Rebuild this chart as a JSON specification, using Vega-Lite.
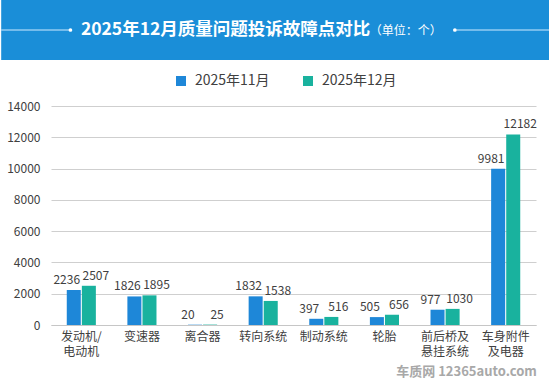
{
  "$schema": "https://vega.github.io/schema/vega-lite/v6.json",
  "background": "white",
  "padding": 0,
  "columns": 1,
  "align": "none",
  "spacing": 14,
  "resolve": {"scale": {"color": "independent"}, "legend": {"color": "independent"}},
  "config": {"view": {"stroke": null}, "font": "Noto Sans CJK SC"},
  "concat": [
    {
      "width": 498,
      "height": 60,
      "data": {"values": [{"t": "2025年12月质量问题投诉故障点对比", "u": "（单位：个）"}]},
      "layer": [
        {
          "mark": {"type": "rect", "color": "#1a8ed8"},
          "encoding": {
            "x": {"datum": 0, "scale": {"domain": [52, 550]}, "axis": null},
            "x2": {"datum": 550},
            "y": {"datum": 0, "scale": {"domain": [0, 1]}, "axis": null},
            "y2": {"datum": 1}
          }
        },
        {
          "mark": {"type": "rule", "color": "#cfeaff", "strokeWidth": 1},
          "encoding": {
            "x": {"datum": 0},
            "x2": {"datum": 68},
            "y": {"datum": 0.5}
          }
        },
        {
          "mark": {"type": "rule", "color": "#cfeaff", "strokeWidth": 1},
          "encoding": {
            "x": {"datum": 457},
            "x2": {"datum": 550},
            "y": {"datum": 0.5}
          }
        },
        {
          "mark": {"type": "circle", "color": "#ffffff", "opacity": 1, "size": 14},
          "encoding": {"x": {"datum": 69.5}, "y": {"datum": 0.5}}
        },
        {
          "mark": {"type": "circle", "color": "#ffffff", "opacity": 1, "size": 14},
          "encoding": {"x": {"datum": 455.5}, "y": {"datum": 0.5}}
        },
        {
          "mark": {"type": "text", "align": "left", "baseline": "middle", "color": "white", "fontSize": 17.5, "fontWeight": "bold", "font": "Noto Sans CJK SC"},
          "encoding": {"x": {"datum": 80}, "y": {"datum": 0.5}, "text": {"field": "t"}}
        },
        {
          "mark": {"type": "text", "align": "left", "baseline": "middle", "color": "white", "fontSize": 12, "font": "Noto Sans CJK SC", "dy": 1},
          "encoding": {"x": {"datum": 370}, "y": {"datum": 0.5}, "text": {"field": "u"}}
        }
      ]
    },
    {
      "width": 485,
      "height": 219,
      "title": {"text": "车质网 12365auto.com", "orient": "bottom", "anchor": "end", "color": "#a8a8a8", "fontSize": 13, "fontWeight": "bold", "offset": 9},
      "data": {
        "values": [
          {"cat": "发动机/|电动机", "month": "2025年11月", "value": 2236},
          {"cat": "变速器", "month": "2025年11月", "value": 1826},
          {"cat": "离合器", "month": "2025年11月", "value": 20},
          {"cat": "转向系统", "month": "2025年11月", "value": 1832},
          {"cat": "制动系统", "month": "2025年11月", "value": 397},
          {"cat": "轮胎", "month": "2025年11月", "value": 505},
          {"cat": "前后桥及|悬挂系统", "month": "2025年11月", "value": 977},
          {"cat": "车身附件|及电器", "month": "2025年11月", "value": 9981},
          {"cat": "发动机/|电动机", "month": "2025年12月", "value": 2507},
          {"cat": "变速器", "month": "2025年12月", "value": 1895},
          {"cat": "离合器", "month": "2025年12月", "value": 25},
          {"cat": "转向系统", "month": "2025年12月", "value": 1538},
          {"cat": "制动系统", "month": "2025年12月", "value": 516},
          {"cat": "轮胎", "month": "2025年12月", "value": 656},
          {"cat": "前后桥及|悬挂系统", "month": "2025年12月", "value": 1030},
          {"cat": "车身附件|及电器", "month": "2025年12月", "value": 12182}
        ]
      },
      "encoding": {
        "x": {
          "field": "cat", "type": "nominal", "sort": null,
          "scale": {"paddingInner": 0.52, "paddingOuter": 0.26},
          "axis": {
            "title": null, "labelAngle": 0, "ticks": false, "domainColor": "#c6c6c6",
            "labelPadding": 6, "labelFontSize": 12, "labelColor": "#404040",
            "labelExpr": "split(datum.value, '|')", "labelLineHeight": 15, "labelBaseline": "top"
          }
        },
        "xOffset": {"field": "month", "type": "nominal", "scale": {"paddingInner": 0.07}},
        "y": {
          "field": "value", "type": "quantitative",
          "scale": {"domain": [0, 14000]},
          "axis": {
            "title": null, "values": [0, 2000, 4000, 6000, 8000, 10000, 12000, 14000], "format": "d",
            "domain": false, "ticks": false, "gridColor": "#cfcfcf", "labelPadding": 11,
            "labelFontSize": 12, "labelColor": "#404040"
          }
        }
      },
      "layer": [
        {
          "mark": {"type": "bar"},
          "encoding": {
            "color": {
              "field": "month", "type": "nominal",
              "scale": {"range": ["#1e87d8", "#19b29e"]},
              "legend": {
                "title": null, "orient": "none", "direction": "horizontal",
                "legendX": 123, "legendY": -32, "symbolType": "square", "symbolSize": 100,
                "symbolStrokeWidth": 0, "labelFontSize": 14, "labelColor": "#404040",
                "labelOffset": 7, "columnPadding": 31
              }
            }
          }
        },
        {
          "transform": [{"filter": "datum.month == '2025年11月'"}],
          "mark": {"type": "text", "baseline": "bottom", "dy": -3, "dx": -7, "fontSize": 12, "color": "#404040"},
          "encoding": {"text": {"field": "value", "type": "quantitative", "format": "d"}}
        },
        {
          "transform": [{"filter": "datum.month == '2025年12月'"}],
          "mark": {"type": "text", "baseline": "bottom", "dy": -3, "dx": 7, "fontSize": 12, "color": "#404040"},
          "encoding": {"text": {"field": "value", "type": "quantitative", "format": "d"}}
        }
      ]
    }
  ]
}
